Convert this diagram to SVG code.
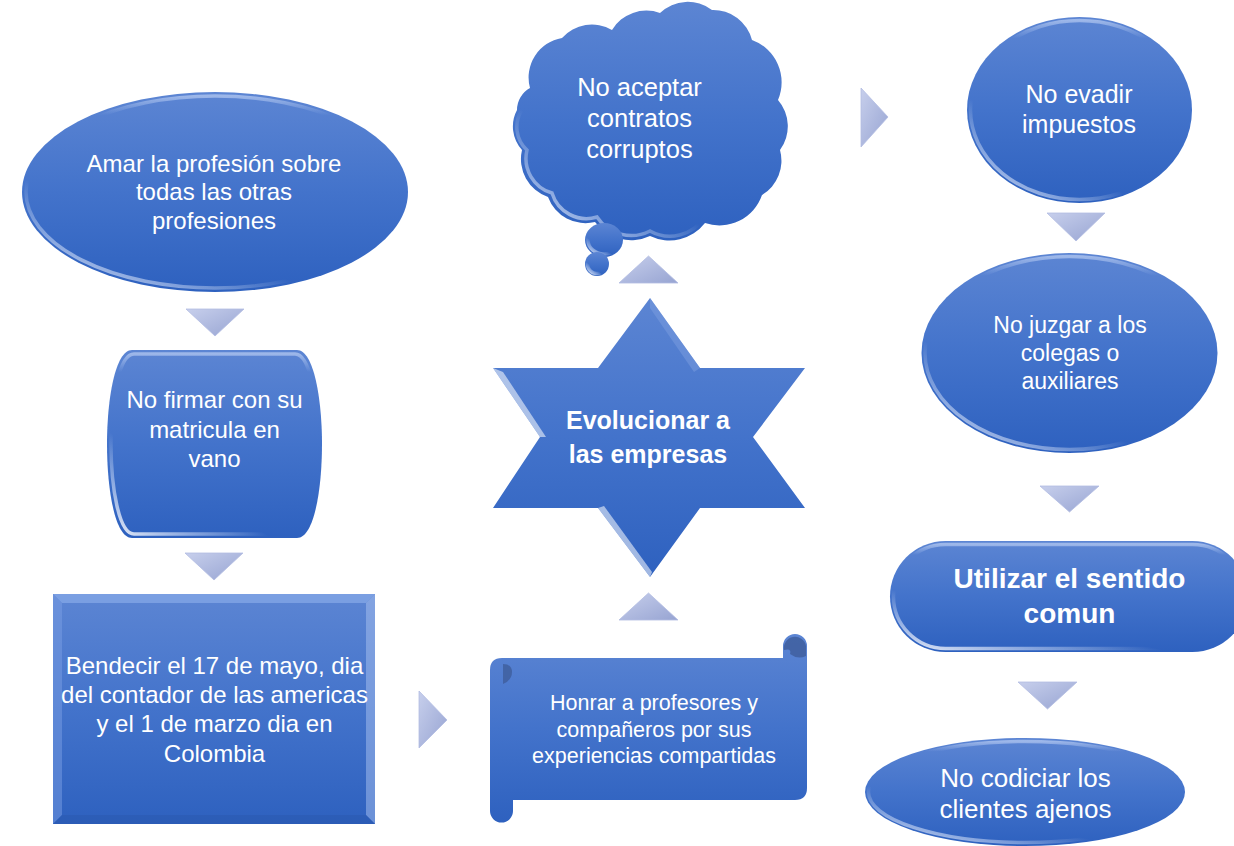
<svg xmlns="http://www.w3.org/2000/svg" width="1234" height="846" viewBox="0 0 1234 846">
<defs>
<linearGradient id="nodeFill" x1="0" y1="0" x2="0" y2="1">
<stop offset="0" stop-color="#5c85d3"/>
<stop offset="0.5" stop-color="#4373cb"/>
<stop offset="1" stop-color="#2e61bf"/>
</linearGradient>
<linearGradient id="gloss" x1="0" y1="1" x2="0.6" y2="0.2">
<stop offset="0" stop-color="#ffffff" stop-opacity="0.9"/>
<stop offset="0.25" stop-color="#e6eeff" stop-opacity="0.45"/>
<stop offset="0.45" stop-color="#ffffff" stop-opacity="0"/>
</linearGradient>
<linearGradient id="topGloss" x1="0" y1="0" x2="0" y2="1">
<stop offset="0" stop-color="#b9cdf3" stop-opacity="0.7"/>
<stop offset="0.1" stop-color="#b9cdf3" stop-opacity="0"/>
</linearGradient>
<linearGradient id="arrowFill" x1="0" y1="0" x2="1" y2="1">
<stop offset="0" stop-color="#c7cfec"/>
<stop offset="1" stop-color="#97a4d2"/>
</linearGradient>
<style>
.shape{fill:url(#nodeFill);stroke:none}
.gl{fill:none;stroke:url(#gloss);stroke-width:3.5}
.tg{fill:none;stroke:url(#topGloss);stroke-width:3.5}
.arrow{fill:url(#arrowFill);stroke:#b3bde2;stroke-width:0.8}
.t{font-family:"Liberation Sans",Arial,sans-serif;fill:#ffffff;text-anchor:middle}
.b{font-weight:bold}
.curl{fill:#3f5f9f;opacity:0.85}
</style>
</defs>

<g id="connectors">
<polygon class="arrow" points="186,309 244,309 215,336"/>
<polygon class="arrow" points="185,553 243,553 214,580"/>
<polygon class="arrow" points="419,691 447,720 419,748"/>
<polygon class="arrow" points="619,620 678,620 648.5,593"/>
<polygon class="arrow" points="619,283 678,283 648.5,256"/>
<polygon class="arrow" points="861,88 888,117 861,147"/>
<polygon class="arrow" points="1047,213 1105,213 1076,241"/>
<polygon class="arrow" points="1040,486 1099,486 1069.5,512"/>
<polygon class="arrow" points="1018,682 1077,682 1047.5,709"/>
</g>

<g id="node-amar">
<ellipse class="shape" cx="215" cy="192" rx="193" ry="100"/>
<ellipse class="gl" cx="215" cy="192" rx="189" ry="96"/>
<ellipse class="tg" cx="215" cy="192" rx="189" ry="96"/>
<text class="t" font-size="24"><tspan x="214" y="172">Amar la profesión sobre</tspan><tspan x="214" y="200">todas las otras</tspan><tspan x="214" y="229">profesiones</tspan></text>
</g>

<g id="node-firmar">
<path class="shape" d="M132 350 L297 350 C314 350 322 400 322 444 C322 490 314 538 297 538 L132 538 C115 538 107 490 107 444 C107 400 115 350 132 350 Z"/>
<path class="gl" d="M134 354 L295 354 C310 354 318 400 318 444 C318 488 310 534 295 534 L134 534 C119 534 111 488 111 444 C111 400 119 354 134 354 Z"/>
<path class="tg" d="M134 354 L295 354 C310 354 318 400 318 444 C318 488 310 534 295 534 L134 534 C119 534 111 488 111 444 C111 400 119 354 134 354 Z"/>
<text class="t" font-size="24"><tspan x="214.5" y="408">No firmar con su</tspan><tspan x="214.5" y="438">matricula en</tspan><tspan x="214.5" y="467">vano</tspan></text>
</g>

<g id="node-bendecir">
<rect class="shape" x="53" y="594" width="322" height="230"/>
<polygon points="53,594 375,594 366,603 62,603" fill="#8fb0ec" opacity="0.6"/>
<polygon points="53,594 62,603 62,815 53,824" fill="#7a9ee3" opacity="0.5"/>
<polygon points="375,594 375,824 366,815 366,603" fill="#a9c2f0" opacity="0.5"/>
<polygon points="53,824 62,815 366,815 375,824" fill="#2a58ad" opacity="0.5"/>
<text class="t" font-size="24"><tspan x="214.5" y="674">Bendecir el 17 de mayo, dia</tspan><tspan x="214.5" y="703">del contador de las americas</tspan><tspan x="214.5" y="732">y el 1 de marzo dia en</tspan><tspan x="214.5" y="762">Colombia</tspan></text>
</g>

<g id="node-honrar">
<path class="shape" d="M490 670 Q490 658 502 658 L783 658 L783 646 A12 12 0 0 1 807 646 L807 788 Q807 800 795 800 L513 800 L513 811 A11.5 11.5 0 0 1 490 811 Z"/>
<path class="curl" d="M784 650 A11 11 0 0 1 806 646 L806 656 Q798 660 790 654 Q792 648 784 650 Z"/>
<path class="curl" d="M503 664 Q512 664 512 672 Q512 680 503 684 Z"/>
<text class="t" font-size="21.5"><tspan x="654" y="710">Honrar a profesores y</tspan><tspan x="654" y="737">compañeros por sus</tspan><tspan x="654" y="763">experiencias compartidas</tspan></text>
</g>

<g id="node-evolucionar">
<polygon class="shape" points="650,298 700,368 805,368 753,437 805,508 700,508 650,577 598,508 493,508 540,437 493,368 598,368"/>
<polygon points="493,368 503,372 546,437 540,437" fill="#ffffff" opacity="0.55"/>
<polygon points="598,508 604,506 652,572 650,577" fill="#ffffff" opacity="0.55"/>
<polygon points="650,298 700,368 694,372 650,308" fill="#7c9de0" opacity="0.5"/>
<text class="t b" font-size="25"><tspan x="648" y="429">Evolucionar a</tspan><tspan x="648" y="463">las empresas</tspan></text>
</g>

<g id="node-aceptar">
<path class="shape" d="M530 88 A40 40 0 0 1 562 38 A40 40 0 0 1 612 30 A40 40 0 0 1 660 13 A40 40 0 0 1 712 10 A40 40 0 0 1 752 40 A45 45 0 0 1 778 100 A40 40 0 0 1 780 150 A40 40 0 0 1 762 195 A45 45 0 0 1 705 223 A45 45 0 0 1 650 236 A45 45 0 0 1 595 222 A40 40 0 0 1 548 197 A40 40 0 0 1 522 150 A35 35 0 0 1 517 110 A25 25 0 0 1 530 88 Z"/>
<path class="gl" d="M534 90 A36 36 0 0 1 564 43 A36 36 0 0 1 613 35 A36 36 0 0 1 660 18 A36 36 0 0 1 711 15 A36 36 0 0 1 748 44 A41 41 0 0 1 773 100 A36 36 0 0 1 775 150 A36 36 0 0 1 758 191 A41 41 0 0 1 704 218 A41 41 0 0 1 650 231 A41 41 0 0 1 597 217 A36 36 0 0 1 552 193 A36 36 0 0 1 527 150 A31 31 0 0 1 522 110 A21 21 0 0 1 534 90 Z"/>
<ellipse class="shape" cx="604" cy="240" rx="19" ry="17"/>
<ellipse class="gl" cx="604" cy="240" rx="16" ry="14"/>
<circle class="shape" cx="597" cy="264" r="12"/>
<circle class="gl" cx="597" cy="264" r="9.5"/>
<text class="t" font-size="25.5"><tspan x="639.5" y="96">No aceptar</tspan><tspan x="639.5" y="127">contratos</tspan><tspan x="639.5" y="158">corruptos</tspan></text>
</g>

<g id="node-evadir">
<ellipse class="shape" cx="1079.5" cy="110" rx="112.5" ry="93"/>
<ellipse class="gl" cx="1079.5" cy="110" rx="109" ry="89.5"/>
<ellipse class="tg" cx="1079.5" cy="110" rx="109" ry="89.5"/>
<text class="t" font-size="25"><tspan x="1079" y="103">No evadir</tspan><tspan x="1079" y="133">impuestos</tspan></text>
</g>

<g id="node-juzgar">
<ellipse class="shape" cx="1069.5" cy="353" rx="148" ry="100"/>
<ellipse class="gl" cx="1069.5" cy="353" rx="144.5" ry="96.5"/>
<ellipse class="tg" cx="1069.5" cy="353" rx="144.5" ry="96.5"/>
<text class="t" font-size="23"><tspan x="1070" y="333">No juzgar a los</tspan><tspan x="1070" y="361">colegas o</tspan><tspan x="1070" y="389">auxiliares</tspan></text>
</g>

<g id="node-utilizar">
<rect class="shape" x="890" y="541" width="358" height="111" rx="55.5" ry="55.5"/>
<rect class="gl" x="893.5" y="544.5" width="351" height="104" rx="52" ry="52"/>
<rect class="tg" x="893.5" y="544.5" width="351" height="104" rx="52" ry="52"/>
<text class="t b" font-size="28"><tspan x="1069.5" y="588">Utilizar el sentido</tspan><tspan x="1069.5" y="623">comun</tspan></text>
</g>

<g id="node-codiciar">
<ellipse class="shape" cx="1025" cy="792" rx="160" ry="54"/>
<ellipse class="gl" cx="1025" cy="792" rx="156.5" ry="50.5"/>
<ellipse class="tg" cx="1025" cy="792" rx="156.5" ry="50.5"/>
<text class="t" font-size="26"><tspan x="1025.5" y="787">No codiciar los</tspan><tspan x="1025.5" y="818">clientes ajenos</tspan></text>
</g>
</svg>
